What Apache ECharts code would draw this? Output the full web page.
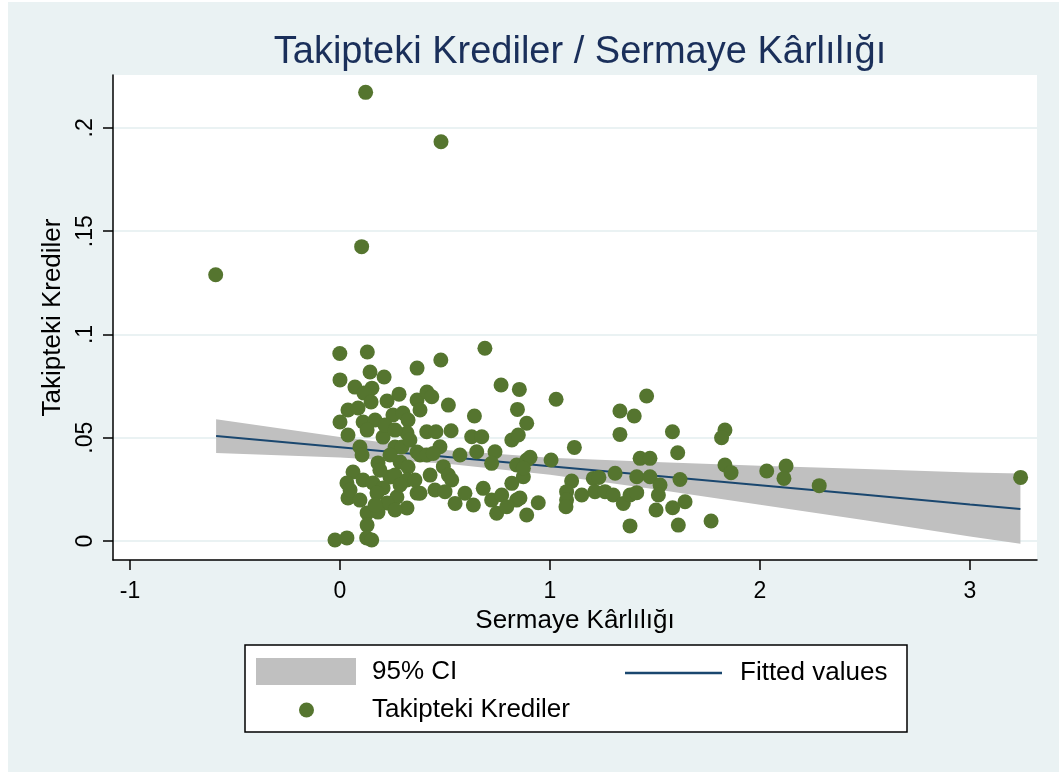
<!DOCTYPE html>
<html>
<head>
<meta charset="UTF-8">
<title>Takipteki Krediler / Sermaye Kârlılığı</title>
<script src="https://cdn.jsdelivr.net/npm/echarts@6/dist/echarts.min.js"></script>
<style>
  html, body { margin: 0; padding: 0; background: #fff; }
  #chart { width: 1059px; height: 772px; }
</style>
</head>
<body>
<div id="chart"></div>
<script>
// scatter: [Sermaye Kârlılığı, Takipteki Krediler]
var points = [
  [0.122, 0.2172], [0.481, 0.1933], [0.103, 0.1425], [-0.592, 0.1289],
  [-0.001, 0.0908], [0.130, 0.0915], [0.690, 0.0933], [0.480, 0.0876],
  [0.367, 0.0837], [0.000, 0.0780], [0.143, 0.0818], [0.210, 0.0794], [0.071, 0.0745],
  [0.152, 0.0740], [0.114, 0.0716], [0.148, 0.0673], [0.224, 0.0678], [0.281, 0.0711],
  [0.367, 0.0682], [0.414, 0.0721], [0.038, 0.0634], [0.086, 0.0644], [0.381, 0.0634],
  [0.252, 0.0610], [0.300, 0.0620], [0.000, 0.0576], [0.110, 0.0576], [0.167, 0.0586],
  [0.324, 0.0586], [0.038, 0.0513], [0.129, 0.0537], [0.205, 0.0503], [0.262, 0.0455],
  [0.319, 0.0523], [0.295, 0.0455], [0.095, 0.0455], [0.105, 0.0416], [0.367, 0.0431],
  [0.181, 0.0378], [0.286, 0.0382], [0.324, 0.0358], [0.062, 0.0334], [0.238, 0.0310],
  [0.033, 0.0281], [0.110, 0.0295], [0.157, 0.0281], [0.262, 0.0319], [0.319, 0.0295],
  [0.205, 0.0257], [0.367, 0.0232], [0.038, 0.0208], [0.176, 0.0232], [0.271, 0.0213],
  [0.224, 0.0184], [0.319, 0.0160], [0.129, 0.0136], [0.181, 0.0140], [0.129, 0.0077],
  [-0.024, 0.0005], [0.033, 0.0015], [0.127, 0.0015], [0.151, 0.0005],
  [0.214, 0.0561], [0.262, 0.0537], [0.333, 0.0489], [0.381, 0.0416], [0.238, 0.0416],
  [0.190, 0.0343], [0.286, 0.0271], [0.357, 0.0295], [0.048, 0.0247], [0.095, 0.0198],
  [0.167, 0.0174], [0.262, 0.0150],
  [0.767, 0.0755], [0.854, 0.0734], [0.437, 0.0698], [0.516, 0.0658], [0.845, 0.0637],
  [0.640, 0.0605], [0.413, 0.0529], [0.457, 0.0529], [0.529, 0.0534], [0.627, 0.0505],
  [0.675, 0.0505], [0.818, 0.0489], [0.849, 0.0513], [0.889, 0.0570], [0.476, 0.0456],
  [0.413, 0.0416], [0.444, 0.0424], [0.571, 0.0416], [0.651, 0.0432], [0.738, 0.0432],
  [0.722, 0.0376], [0.841, 0.0368], [0.889, 0.0392], [0.429, 0.0319], [0.492, 0.0360],
  [0.516, 0.0319], [0.532, 0.0295], [0.873, 0.0311], [0.818, 0.0279], [0.381, 0.0231],
  [0.452, 0.0247], [0.500, 0.0239], [0.595, 0.0231], [0.682, 0.0255], [0.722, 0.0198],
  [0.770, 0.0223], [0.841, 0.0198], [0.548, 0.0182], [0.635, 0.0174], [0.746, 0.0134],
  [0.794, 0.0166], [0.889, 0.0126],
  [1.029, 0.0686], [1.116, 0.0453], [1.333, 0.0629], [1.401, 0.0605], [1.333, 0.0516],
  [1.460, 0.0702], [0.905, 0.0405], [1.005, 0.0392], [0.873, 0.0352], [1.103, 0.0290],
  [1.079, 0.0239], [1.079, 0.0198], [1.076, 0.0166], [1.151, 0.0223], [1.206, 0.0303],
  [1.233, 0.0308], [1.214, 0.0239], [1.262, 0.0239], [1.310, 0.0328], [1.301, 0.0223],
  [1.349, 0.0182], [1.381, 0.0223], [1.413, 0.0234], [1.413, 0.0311], [1.429, 0.0400],
  [1.476, 0.0400], [1.476, 0.0311], [1.381, 0.0073], [0.944, 0.0185], [0.857, 0.0208],
  [1.583, 0.0529], [1.608, 0.0427], [1.833, 0.0537], [1.817, 0.0500], [1.833, 0.0368],
  [1.862, 0.0331], [1.524, 0.0271], [1.619, 0.0298], [1.516, 0.0223], [1.643, 0.0190],
  [1.584, 0.0161], [1.505, 0.0150], [1.611, 0.0077], [1.767, 0.0097],
  [2.032, 0.0339], [2.124, 0.0363], [2.114, 0.0303], [2.282, 0.0268], [3.241, 0.0308]
];

// fitted line and 95% CI
var fitX  = [-0.59, 0, 0.5, 1, 1.5, 2, 2.5, 3, 3.24];
var fitY  = [0.0508, 0.0454, 0.0408, 0.0362, 0.0316, 0.0270, 0.0224, 0.0177, 0.0155];
var ciLow = [0.0426, 0.0404, 0.0375, 0.0321, 0.0250, 0.0176, 0.0100, 0.0022, -0.0013];
var ciUp  = [0.0590, 0.0504, 0.0441, 0.0403, 0.0382, 0.0364, 0.0348, 0.0332, 0.0327];

var xTicks = [-1, 0, 1, 2, 3];
var yTicks = [0, 0.05, 0.1, 0.15, 0.2];
var yTickLabels = ['0', '.05', '.1', '.15', '.2'];

var font = "'Liberation Sans', Arial, sans-serif";
var chart = echarts.init(document.getElementById('chart'));

var bandData = [], lineData = [];
for (var i = 0; i < fitX.length; i++) {
  bandData.push([fitX[i], ciLow[i], ciUp[i]]);
  lineData.push([fitX[i], fitY[i]]);
}

// CI band as one polygon: upper edge left->right, lower edge right->left
function renderBand(params, api) {
  if (params.dataIndex !== 0) return;
  var pts = [];
  for (var k = 0; k < bandData.length; k++) pts.push(api.coord([bandData[k][0], bandData[k][2]]));
  for (var k = bandData.length - 1; k >= 0; k--) pts.push(api.coord([bandData[k][0], bandData[k][1]]));
  return {
    type: 'polygon',
    shape: { points: pts },
    style: { fill: '#C0C0C0', stroke: 'none' }
  };
}

function legendText(padLeft) {
  return { fontFamily: font, fontSize: 26, color: '#000', padding: [0, 0, 0, padLeft] };
}

var option = {
  backgroundColor: '#ffffff',
  animation: false,
  graphic: [
    { type: 'rect', z: -10, shape: { x: 8, y: 2, width: 1059, height: 772 }, style: { fill: '#EAF2F3' } },
    { type: 'rect', z: -5, shape: { x: 245, y: 645, width: 662, height: 87 },
      style: { fill: '#ffffff', stroke: '#000', lineWidth: 1.5 } }
  ],
  title: {
    text: 'Takipteki Krediler / Sermaye Kârlılığı',
    left: 575, top: 29, textAlign: 'center',
    textStyle: { fontFamily: font, fontSize: 38, fontWeight: 'normal', color: '#1a2f5a' }
  },
  legend: [
    { left: 256, top: 658, itemWidth: 100, itemHeight: 27, padding: 0, selectedMode: false,
      textStyle: legendText(11), data: [{ name: '95% CI', icon: 'rect' }] },
    { left: 625, top: 660, itemWidth: 97, itemHeight: 2.5, padding: 0, selectedMode: false,
      textStyle: legendText(13), data: [{ name: 'Fitted values', icon: 'rect' }] },
    { left: 299, top: 697, itemWidth: 15, itemHeight: 15, padding: 0, selectedMode: false,
      textStyle: legendText(53), data: [{ name: 'Takipteki Krediler', icon: 'circle' }] }
  ],
  grid: {
    left: 113, right: 22, top: 75, bottom: 212,
    show: true, backgroundColor: '#ffffff', borderWidth: 0
  },
  xAxis: {
    type: 'value', min: -1.081, max: 3.319,
    name: 'Sermaye Kârlılığı', nameLocation: 'middle', nameGap: 44,
    nameTextStyle: { fontFamily: font, fontSize: 26, color: '#000' },
    axisLine: { show: true, onZero: false, lineStyle: { color: '#000', width: 1.5 } },
    axisTick: { show: true, inside: false, length: 10, customValues: xTicks,
      lineStyle: { color: '#000', width: 1.5 } },
    axisLabel: { customValues: xTicks, margin: 20, fontFamily: font, fontSize: 23, color: '#000' },
    splitLine: { show: false }
  },
  yAxis: {
    type: 'value', min: -0.0092, max: 0.2256,
    name: 'Takipteki Krediler', nameLocation: 'middle', nameGap: 37, nameRotate: 90,
    nameTextStyle: { fontFamily: font, fontSize: 26, color: '#000' },
    axisLine: { show: true, onZero: false, lineStyle: { color: '#000', width: 1.5 } },
    axisTick: { show: true, inside: false, length: 10, customValues: yTicks,
      lineStyle: { color: '#000', width: 1.5 } },
    axisLabel: {
      customValues: yTicks, rotate: 90, margin: 16,
      fontFamily: font, fontSize: 23, color: '#000',
      formatter: function (v) {
        var k = yTicks.indexOf(Math.round(v * 1000) / 1000);
        return k >= 0 ? yTickLabels[k] : '';
      }
    },
    splitLine: { show: true, lineStyle: { color: '#EAF2F3', width: 2 } }
  },
  series: [
    {
      name: '95% CI', type: 'custom', data: bandData, renderItem: renderBand,
      encode: { x: 0, y: [1, 2] }, silent: true, z: 1,
      itemStyle: { color: '#C0C0C0' }
    },
    {
      name: 'Fitted values', type: 'line', data: lineData, symbol: 'none', showSymbol: false, z: 2,
      itemStyle: { color: '#1a476f' },
      lineStyle: { color: '#1a476f', width: 2 }
    },
    {
      name: 'Takipteki Krediler', type: 'scatter', data: points, z: 3,
      symbol: 'circle', symbolSize: 15,
      itemStyle: { color: '#55752F', opacity: 1 }
    }
  ]
};

chart.setOption(option);
window.onresize = chart.resize;
</script>
</body>
</html>
